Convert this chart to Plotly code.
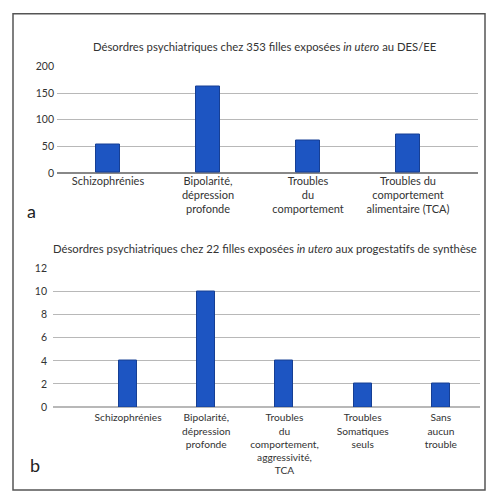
import plotly.graph_objects as go

W, H = 490, 498

cats_a = ["Schizophrénies", "Bipolarité,<br>dépression<br>profonde", "Troubles<br>du<br>comportement",
          "Troubles du<br>comportement<br>alimentaire (TCA)"]
vals_a = [53, 163, 60, 72]
yticks_a = [0, 50, 100, 150, 200]
title_a = "Désordres psychiatriques chez 353 filles exposées <i>in utero</i> au DES/EE"

cats_b = ["Schizophrénies", "Bipolarité,<br>dépression<br>profonde",
          "Troubles<br>du<br>comportement,<br>aggressivité,<br>TCA",
          "Troubles<br>Somatiques<br>seuls", "Sans<br>aucun<br>trouble"]
vals_b = [4, 10, 4, 2, 2]
yticks_b = [0, 2, 4, 6, 8, 10, 12]
title_b = "Désordres psychiatriques chez 22 filles exposées <i>in utero</i> aux progestatifs de synthèse"

FONT = "Lato"
BAR = "#1d55c2"
EDGE = "#163f94"
GRID = "#b8b8b8"
TXT = "#333333"

def px_x(p):
    return p / W

def px_y(p):
    return 1 - p / H

fig = go.Figure()
fig.add_trace(go.Bar(x=cats_a, y=vals_a, width=0.24, marker=dict(color=BAR, line=dict(color=EDGE, width=1)),
                     xaxis="x", yaxis="y", showlegend=False))
fig.add_trace(go.Bar(x=cats_b, y=vals_b, width=0.23, marker=dict(color=BAR, line=dict(color=EDGE, width=1)),
                     xaxis="x2", yaxis="y2", showlegend=False))

axfont = dict(family=FONT, size=10.5, color=TXT)
fig.update_layout(
    width=W, height=H, margin=dict(l=0, r=0, t=0, b=0),
    paper_bgcolor="white", plot_bgcolor="white",
    bargap=0,
    xaxis=dict(domain=[px_x(57), px_x(478)], anchor="y", type="category", range=[-0.51, 3.7],
               showgrid=False, showline=False, zeroline=False, ticks="",
               tickfont=dict(family=FONT, size=11, color=TXT)),
    yaxis=dict(domain=[px_y(171), px_y(62)], anchor="x", range=[0, 200], tickvals=yticks_a,
               showgrid=True, gridcolor=GRID, gridwidth=1, zeroline=True, zerolinecolor="#888888",
               showline=False, ticks="", tickfont=axfont, ticklabelstandoff=2),
    xaxis2=dict(domain=[px_x(53), px_x(480)], anchor="y2", type="category", range=[-0.96, 4.5],
                showgrid=False, showline=False, zeroline=False, ticks="", ticklabelstandoff=3,
                tickfont=dict(family=FONT, size=10.2, color=TXT)),
    yaxis2=dict(domain=[px_y(411), px_y(269)], anchor="x2", range=[0, 12], tickvals=yticks_b,
                showgrid=True, gridcolor=GRID, gridwidth=1, zeroline=True, zerolinecolor=GRID,
                showline=False, ticks="", tickfont=axfont, ticklabelstandoff=5),
    annotations=[
        dict(text=title_a, x=px_x(265), y=px_y(42), xref="paper", yref="paper", showarrow=False,
             font=dict(family=FONT, size=11.3, color=TXT), xanchor="center", yanchor="middle"),
        dict(text=title_b, x=px_x(265), y=px_y(248), xref="paper", yref="paper", showarrow=False,
             font=dict(family=FONT, size=11.3, color=TXT), xanchor="center", yanchor="middle"),
        dict(text="a", x=px_x(25), y=px_y(210), xref="paper", yref="paper", showarrow=False,
             font=dict(family=FONT, size=18, color="#222222"), xanchor="left", yanchor="middle"),
        dict(text="b", x=px_x(28), y=px_y(470), xref="paper", yref="paper", showarrow=False,
             font=dict(family=FONT, size=18, color="#222222"), xanchor="left", yanchor="middle"),
    ],
    shapes=[dict(type="rect", xref="paper", yref="paper", x0=px_x(13), x1=px_x(485), y0=px_y(496), y1=px_y(8),
                 line=dict(color="#555555", width=1.5))],
)

fig.write_html("out.html", config={"displayModeBar": False},
               post_script="document.body.style.margin='0';document.body.style.overflow='hidden';")
